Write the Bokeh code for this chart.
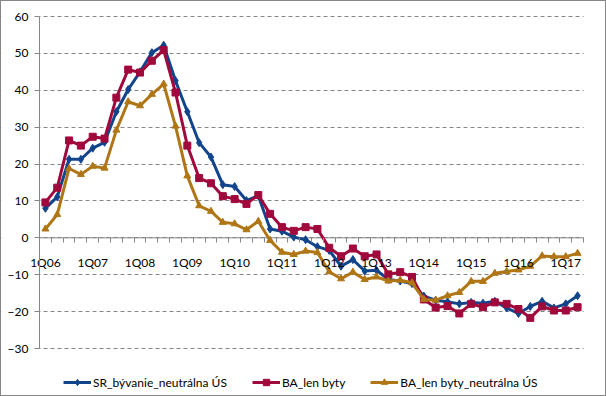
from bokeh.plotting import figure
from bokeh.models import FixedTicker, Legend, LegendItem, Range1d, Span, BoxAnnotation
from bokeh.embed import file_html
from bokeh.resources import INLINE

quarters = ["1Q06", "2Q06", "3Q06", "4Q06", "1Q07", "2Q07", "3Q07", "4Q07",
            "1Q08", "2Q08", "3Q08", "4Q08", "1Q09", "2Q09", "3Q09", "4Q09",
            "1Q10", "2Q10", "3Q10", "4Q10", "1Q11", "2Q11", "3Q11", "4Q11",
            "1Q12", "2Q12", "3Q12", "4Q12", "1Q13", "2Q13", "3Q13", "4Q13",
            "1Q14", "2Q14", "3Q14", "4Q14", "1Q15", "2Q15", "3Q15", "4Q15",
            "1Q16", "2Q16", "3Q16", "4Q16", "1Q17", "2Q17"]

sr_byvanie_neutralna = [8.0, 11.1, 21.3, 21.3, 24.3, 25.9, 34.2, 40.2, 45.0, 50.2,
                        52.2, 42.6, 34.2, 25.8, 21.9, 14.4, 13.9, 10.1, 11.4, 2.4,
                        1.8, 0.2, -0.5, -2.4, -3.4, -7.7, -5.9, -9.0, -8.8, -11.3,
                        -11.7, -12.4, -15.8, -16.9, -17.3, -17.9, -17.5, -17.7, -17.2, -19.0,
                        -20.5, -18.6, -17.2, -19.0, -17.9, -15.7]

ba_len_byty = [9.6, 13.6, 26.4, 25.0, 27.4, 26.9, 38.0, 45.6, 44.8, 48.0,
               50.9, 39.4, 25.0, 16.2, 14.8, 11.3, 10.5, 9.2, 11.6, 6.5,
               2.9, 1.9, 2.9, 2.4, -2.7, -5.0, -2.9, -5.0, -4.5, -9.9,
               -9.3, -10.6, -16.7, -18.9, -18.5, -20.5, -17.9, -18.8, -17.5, -17.9,
               -19.3, -21.7, -18.6, -19.7, -19.7, -18.8]

ba_len_byty_neutralna = [2.4, 6.3, 18.8, 17.2, 19.4, 18.9, 29.2, 36.9, 35.8, 38.9,
                         41.7, 30.3, 16.8, 8.7, 7.2, 4.2, 3.8, 2.2, 4.5, -0.7,
                         -3.9, -4.5, -3.6, -4.0, -9.2, -11.1, -9.3, -11.3, -10.6, -11.7,
                         -11.5, -12.2, -16.7, -16.9, -15.7, -14.8, -11.8, -11.8, -9.6, -9.1,
                         -8.7, -7.7, -4.9, -5.1, -5.1, -4.2]

series_names = ["SR_bývanie_neutrálna ÚS", "BA_len byty", "BA_len byty_neutrálna ÚS"]
y_ticks = [-30, -20, -10, 0, 10, 20, 30, 40, 50, 60]
label_every = 4

FONT = "Lato"
GRAY = "#868686"
BLUE = "#12448C"
RED = "#A0093C"
GOLD = "#B07616"

n = len(quarters)
x = list(range(n))
label_pos = x[::label_every]
boundaries = [i - 0.5 for i in range(n + 1)]

# layout in pixels: plot area from x=38 to 582, 60 at y=15, -30 at y=347.
# The frame covers the whole figure so axis labels at fixed locations are not clipped.
W, H = 606, 396
left_px, right_px = 38, 582
top_px, bottom_grid_px = 15, 347
x_units_per_px = n / (right_px - left_px)
x_start = -0.5 - left_px * x_units_per_px
x_end = n - 0.5 + (W - right_px) * x_units_per_px
y_units_per_px = (y_ticks[-1] - y_ticks[0]) / (bottom_grid_px - top_px)
y_min = y_ticks[0] - (H - bottom_grid_px) * y_units_per_px
y_max = y_ticks[-1] + top_px * y_units_per_px

p = figure(width=W, height=H, output_backend="svg", toolbar_location=None,
           x_range=Range1d(x_start, x_end), y_range=Range1d(y_min, y_max),
           min_border_left=0, min_border_right=0, min_border_top=0, min_border_bottom=0)
p.outline_line_color = None
p.background_fill_color = "white"
p.border_fill_color = "white"
p.styles = {"border": "1px solid #868686", "box-sizing": "border-box"}

# y axis at the left edge of the plot area
p.yaxis.fixed_location = -0.5
p.yaxis.ticker = FixedTicker(ticks=y_ticks)
p.yaxis.bounds = (y_ticks[0], y_ticks[-1])
p.yaxis.axis_line_color = GRAY
p.yaxis.major_tick_line_color = GRAY
p.yaxis.major_tick_out = 5
p.yaxis.major_tick_in = 0
p.yaxis.minor_tick_line_color = None
p.yaxis.major_label_standoff = 6
p.yaxis.major_label_text_font = FONT
p.yaxis.major_label_text_font_size = "12px"
p.yaxis.major_label_text_color = "black"

# x axis at y = 0 (its line drawn beneath the data as a Span)
p.xaxis.fixed_location = 0
p.xaxis.ticker = FixedTicker(ticks=label_pos, minor_ticks=boundaries)
p.xaxis.bounds = (-0.5, n - 0.5)
p.xaxis.major_label_overrides = {i: quarters[i] for i in label_pos}
p.xaxis.axis_line_color = None
p.xaxis.major_tick_line_color = None
p.xaxis.major_tick_out = 0
p.xaxis.major_tick_in = 0
p.xaxis.minor_tick_line_color = GRAY
p.xaxis.minor_tick_out = 5
p.xaxis.minor_tick_in = 0
p.xaxis.major_label_standoff = 12
p.xaxis.major_label_text_font = FONT
p.xaxis.major_label_text_font_size = "12px"
p.xaxis.major_label_text_color = "black"

p.xgrid.visible = False
p.ygrid.grid_line_color = GRAY
p.ygrid.grid_line_dash = "4 3"
p.ygrid.grid_line_width = 1

p.add_layout(Span(location=0, dimension="width", line_color=GRAY, line_width=1, level="underlay"))
# blank out grid/axis lines outside the plot area
p.add_layout(BoxAnnotation(right=-0.5, fill_color="white", fill_alpha=1, line_color=None, level="underlay"))
p.add_layout(BoxAnnotation(left=n - 0.5, fill_color="white", fill_alpha=1, line_color=None, level="underlay"))

items = []
for name, vals, col, mk, sz in [
    (series_names[0], sr_byvanie_neutralna, BLUE, "diamond", 8),
    (series_names[1], ba_len_byty, RED, "square", 7),
    (series_names[2], ba_len_byty_neutralna, GOLD, "triangle", 7),
]:
    r = p.line(x, vals, line_color=col, line_width=3, line_join="round")
    m = p.scatter(x, vals, marker=mk, size=sz, fill_color=col, line_color=col)
    items.append(LegendItem(label=name, renderers=[r, m]))

legend = Legend(items=items, orientation="horizontal", location=(62, 7),
                glyph_width=28, glyph_height=16, label_standoff=2, spacing=25,
                padding=0, margin=0, border_line_color=None, background_fill_alpha=0,
                label_text_font=FONT, label_text_font_size="12px",
                label_text_color="black", label_height=16)
p.add_layout(legend, "center")

open("out.html", "w").write(file_html(p, INLINE))
